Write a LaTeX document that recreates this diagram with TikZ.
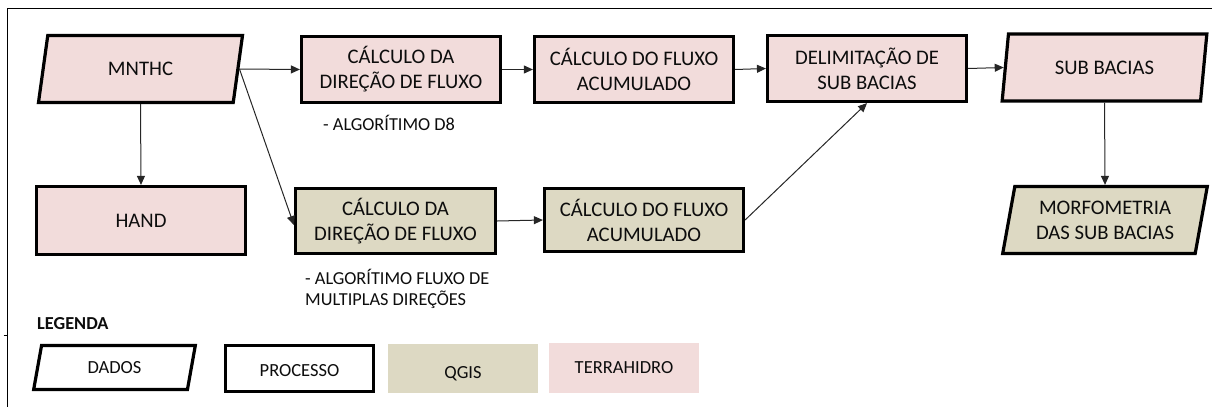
\documentclass[tikz,border=0pt]{standalone}
\usepackage{fontspec}
\setmainfont{Carlito}
\usetikzlibrary{shapes.geometric,arrows.meta}
\definecolor{pinkfill}{HTML}{F2DCDB}
\definecolor{tanfill}{HTML}{DDD9C3}
\definecolor{txt}{HTML}{0D0D0D}
\tikzset{
  base/.style={inner sep=0pt, text=txt, align=center, font=\fontsize{20.7}{25}\selectfont},
  procbox/.style={base, draw=black, line width=3.2pt, rectangle, minimum width=199pt, minimum height=66pt},
  databox/.style={base, draw=black, line width=3.2pt, trapezium, trapezium left angle=76.5, trapezium right angle=103.5, trapezium stretches=true, minimum width=205pt, minimum height=67pt},
  pinkbox/.style={fill=pinkfill},
  tanbox/.style={fill=tanfill},
  legtext/.style={font=\fontsize{18.5}{22}\selectfont},
  note/.style={inner sep=0pt, text=txt, align=left, font=\fontsize{18.3}{21.5}\selectfont},
  conn/.style={line width=1pt, draw=black!85, -{Triangle[length=9pt,width=8pt]}},
  frameline/.style={line width=1pt, draw=black}
}
\begin{document}
\begin{tikzpicture}[x=1pt,y=-1pt]
\useasboundingbox (0,0) rectangle (1212,407);
% frame
\draw[frameline] (1212,8) -- (7,8) -- (7,407);
\draw[frameline] (3.5,335) -- (7,335);

% data nodes
\node[databox,pinkbox] (mnthc) at (140.5,69) {MNTHC};
\node[databox,pinkbox] (sub) at (1104.5,67.5) {SUB BACIAS};
\node[databox,tanbox] (morf) at (1105,220) {MORFOMETRIA\\DAS SUB BACIAS};

% process nodes
\node[procbox,pinkbox] (dir1) at (401,69.5) {CÁLCULO DA\\DIREÇÃO DE FLUXO};
\node[procbox,pinkbox] (acc1) at (634,69.5) {CÁLCULO DO FLUXO\\ACUMULADO};
\node[procbox,pinkbox] (delim) at (867,68.5) {DELIMITAÇÃO DE\\SUB BACIAS};
\node[procbox,pinkbox,minimum width=209pt,minimum height=68pt] (hand) at (141,220.5) {HAND};
\node[procbox,tanbox,minimum width=200pt,minimum height=65pt] (dir2) at (395.5,221) {CÁLCULO DA\\DIREÇÃO DE FLUXO};
\node[procbox,tanbox,minimum width=199pt,minimum height=63pt] (acc2) at (644,220) {CÁLCULO DO FLUXO\\ACUMULADO};

% notes
\node[note,anchor=west] (n1) at (323,123) {- ALGORÍTIMO D8};
\node[note,anchor=west] (n2) at (305,289) {- ALGORÍTIMO FLUXO DE\\MULTIPLAS DIREÇÕES};

% connectors
\draw[conn] (mnthc.east) -- (dir1.west);
\draw[conn] (dir1.east) -- (acc1.west);
\draw[conn] (acc1.east) -- (delim.west);
\draw[conn] (delim.east) -- (sub.east -| sub.west);
\draw[conn] (mnthc.south) -- (hand.north);
\draw[conn] (mnthc.east) -- ([yshift=-4pt]dir2.west);
\draw[conn] (dir2.east) -- (acc2.west);
\draw[conn] (acc2.east) -- (delim.south);
\draw[conn] (sub.south) -- (morf.north);

% legend
\node[note,anchor=west,font=\bfseries\fontsize{18.3}{21.5}\selectfont] (leg) at (37,324) {LEGENDA};
\node[databox,legtext,fill=white,minimum width=162pt,minimum height=44pt] (ldata) at (114.5,367.5) {DADOS};
\node[procbox,legtext,fill=white,minimum width=148pt,minimum height=46pt,text height=15pt,text depth=0pt] (lproc) at (299.5,368.5) {PROCESSO};
\node[base,legtext,tanbox,minimum width=150pt,minimum height=49pt,text height=19pt,text depth=0pt] (lqgis) at (463,368.5) {QGIS};
\node[base,legtext,pinkbox,minimum width=150pt,minimum height=50pt] (lterra) at (624,368) {TERRAHIDRO};
\end{tikzpicture}
\end{document}
